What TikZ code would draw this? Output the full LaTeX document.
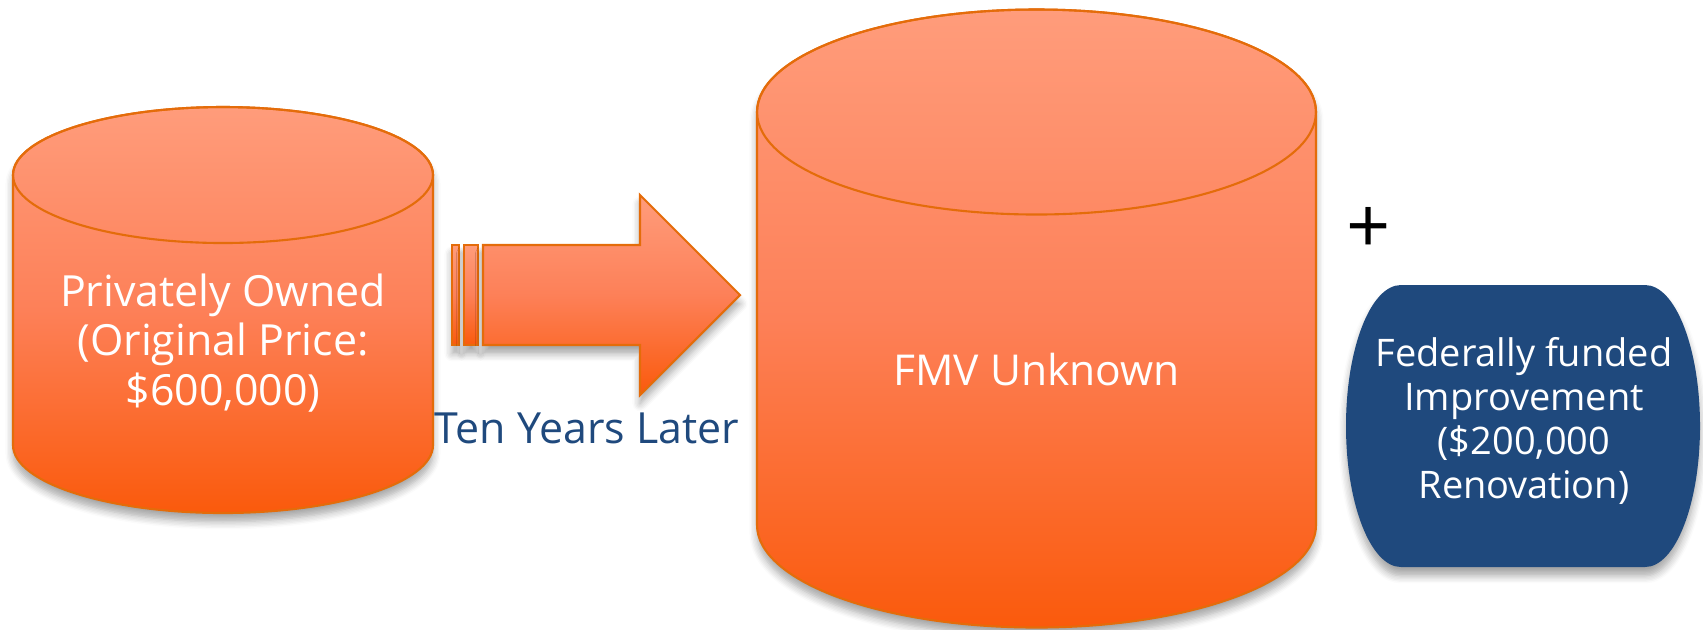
\documentclass[tikz,border=0pt]{standalone}
\usepackage{fontspec}
\setmainfont{Open Sans}
\usetikzlibrary{shadows.blur}
\definecolor{orTop}{RGB}{255,156,123}
\definecolor{orMid}{RGB}{253,128,88}
\definecolor{orBot}{RGB}{250,90,12}
\definecolor{orLine}{RGB}{228,108,10}
\definecolor{navy}{RGB}{31,73,125}
\tikzset{
  orshape/.style={draw=orLine, line width=0.6pt, top color=orTop, bottom color=orBot, middle color=orMid,
    blur shadow={shadow xshift=0pt, shadow yshift=-2.5pt, shadow blur steps=6, shadow opacity=35}},
  rim/.style={draw=orLine, line width=0.6pt},
  bluebox/.style={fill=navy, draw=none,
    blur shadow={shadow xshift=0pt, shadow yshift=-2.5pt, shadow blur steps=6, shadow opacity=35}},
  wlabel/.style={text=white, align=center, inner sep=0pt},
}
\begin{document}
\begin{tikzpicture}[x=0.01cm, y=-0.01cm]
\useasboundingbox (0,0) rectangle (1703,629);
% cylinder 1
\path[orshape] (13,175) -- (13,445) arc(180:0:210 and 68) -- (433,175) arc(0:-180:210 and 68) -- cycle;
\draw[rim] (223,175) ellipse (210 and 68);
\node[wlabel, font=\fontsize{12.2pt}{14.1pt}\selectfont] (priv) at (223,343) {Privately Owned\\(Original Price:\\\$600,000)};
% striped arrow
\path[orshape] (452,245) rectangle (459,345);
\path[orshape] (464,245) rectangle (478,345);
\path[orshape] (483,245) -- (640,245) -- (640,195) -- (740,295) -- (640,395) -- (640,345) -- (483,345) -- cycle;
\node[anchor=base, inner sep=0pt, text=navy, font=\fontsize{12.2pt}{14pt}\selectfont] (ten) at (587,443) {Ten Years Later};
% cylinder 2
\path[orshape] (757,112) -- (757,525) arc(180:0:279.5 and 102.5) -- (1316,112) arc(0:-180:279.5 and 102.5) -- cycle;
\draw[rim] (1036.5,112) ellipse (279.5 and 102.5);
\node[wlabel, anchor=base, font=\fontsize{12.1pt}{14pt}\selectfont] (fmv) at (1036.5,385) {FMV Unknown};
% plus
\node[inner sep=0pt, font=\fontsize{22pt}{24pt}\selectfont] (plus) at (1369,230) {+};
% blue box
\path[bluebox] (1401,285) -- (1645,285) arc(-90:90:55 and 141) -- (1401,567) arc(90:270:55 and 141) -- cycle;
\node[wlabel, font=\fontsize{10.8pt}{12.5pt}\selectfont] (fed) at (1524,421) {Federally funded\\Improvement\\(\$200,000\\Renovation)};
\end{tikzpicture}
\end{document}
